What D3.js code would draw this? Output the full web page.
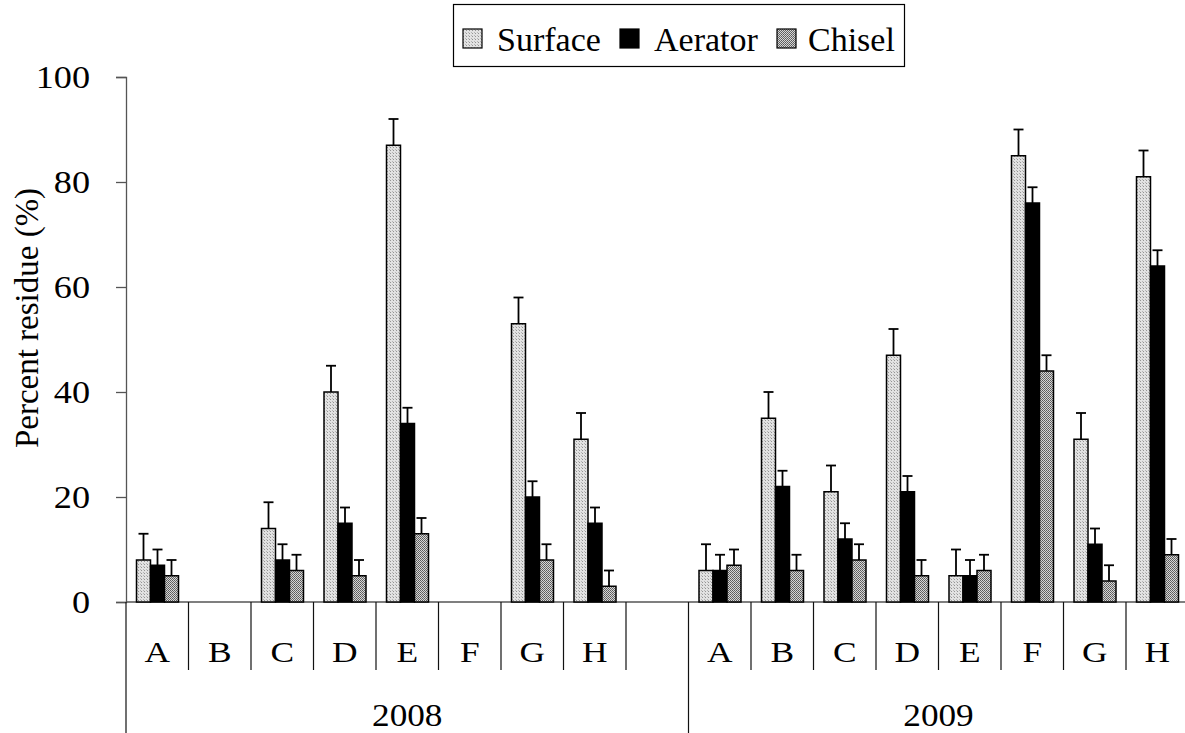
<!DOCTYPE html>
<html>
<head>
<meta charset="utf-8">
<script src="https://cdn.jsdelivr.net/npm/d3@7"></script>
<style>
  body { margin: 0; background: #fff; }
  text { font-family: "Liberation Serif", "Times New Roman", serif; fill: #000; }
</style>
</head>
<body>
<div id="chart"></div>
<script>
// Data
const years = ["2008", "2009"]
const sites = ["A", "B", "C", "D", "E", "F", "G", "H"]
const seriesNames = ["Surface", "Aerator", "Chisel"]

// null = no bar for that site
const surface2008 = [8, null, 14, 40, 87, null, 53, 31]
const aerator2008 = [7, null, 8, 15, 34, null, 20, 15]
const chisel2008  = [5, null, 6, 5, 13, null, 8, 3]
const surface2009 = [6, 35, 21, 47, 5, 85, 31, 81]
const aerator2009 = [6, 22, 12, 21, 5, 76, 11, 64]
const chisel2009  = [7, 6, 8, 5, 6, 44, 4, 9]

const surfaceErr = [5, null, 5, 5, 5, null, 5, 5, 5, 5, 5, 5, 5, 5, 5, 5]
const aeratorErr = [3, null, 3, 3, 3, null, 3, 3, 3, 3, 3, 3, 3, 3, 3, 3]
const chiselErr  = [3, null, 3, 3, 3, null, 3, 3, 3, 3, 3, 3, 3, 3, 3, 3]

const yTicks = [0, 20, 40, 60, 80, 100]

// Build slots: 2008 has an extra empty slot after H
const slots = []
sites.forEach(s => slots.push("2008-" + s))
slots.push("2008-gap")
sites.forEach(s => slots.push("2009-" + s))

const rows = []
const bySeries = {
  Surface: [surface2008, surface2009],
  Aerator: [aerator2008, aerator2009],
  Chisel: [chisel2008, chisel2009]
}
const errs = { Surface: surfaceErr, Aerator: aeratorErr, Chisel: chiselErr }
years.forEach((yr, yi) => {
  sites.forEach((s, si) => {
    seriesNames.forEach(name => {
      const v = bySeries[name][yi][si]
      if (v != null) rows.push({ slot: yr + "-" + s, series: name, value: v, err: errs[name][yi * 8 + si] })
    })
  })
})

// Size
const width = 1185, height = 733
const svg = d3.select("#chart").append("svg")
  .attr("width", width).attr("height", height)

// Patterns
const defs = svg.append("defs")
const pSurf = defs.append("pattern").attr("id", "pSurface")
  .attr("width", 3).attr("height", 3).attr("patternUnits", "userSpaceOnUse")
pSurf.append("rect").attr("width", 3).attr("height", 3).attr("fill", "#e2e2e2")
pSurf.append("rect").attr("width", 1).attr("height", 1).attr("fill", "#949494")
pSurf.append("rect").attr("x", 2).attr("y", 2).attr("width", 1).attr("height", 1).attr("fill", "#b5b5b5")

const pChis = defs.append("pattern").attr("id", "pChisel")
  .attr("width", 2).attr("height", 2).attr("patternUnits", "userSpaceOnUse")
pChis.append("rect").attr("width", 2).attr("height", 2).attr("fill", "#d6d6d6")
pChis.append("rect").attr("width", 1).attr("height", 1).attr("fill", "#5a5a5a")
pChis.append("rect").attr("x", 1).attr("y", 1).attr("width", 1).attr("height", 1).attr("fill", "#6a6a6a")

const fills = { Surface: "url(#pSurface)", Aerator: "#000", Chisel: "url(#pChisel)" }

// Scales
const x = d3.scaleBand().domain(slots).range([126, 126 + 17 * 62.5])
const xs = d3.scaleBand().domain(seriesNames).range([10.5, 52.5])
const y = d3.scaleLinear().domain([0, 100]).range([602, 77])

// Y axis
const yAxis = svg.append("g")
  .attr("transform", "translate(126,0)")
  .call(d3.axisLeft(y).tickValues(yTicks).tickSize(10))
yAxis.select(".domain").attr("stroke", "#555").attr("stroke-width", 1.3)
yAxis.selectAll(".tick line").attr("stroke", "#555").attr("stroke-width", 1.3)
yAxis.selectAll(".tick text")
  .attr("x", 0).attr("dy", "0.34em")
  .attr("transform", "translate(-36,0) scale(1.17,1)")
  .attr("font-size", 31)
  .style("font-family", "Liberation Serif").attr("fill", "#000")

// Baseline
svg.append("line")
  .attr("x1", 126).attr("x2", width).attr("y1", y(0)).attr("y2", y(0))
  .attr("stroke", "#555").attr("stroke-width", 1.3)

// Category dividers
const bounds = slots.map(s => x(s)).concat([x(slots[slots.length - 1]) + x.bandwidth()])
svg.selectAll(".divider")
  .data(bounds)
  .enter().append("line")
  .attr("x1", d => d).attr("x2", d => d)
  .attr("y1", y(0))
  .attr("y2", (d, i) => (i === 0 || i === 9) ? height : 670)
  .attr("stroke", "#111").attr("stroke-width", 1.2)

// Site labels
svg.selectAll(".site")
  .data(slots.filter(s => !s.endsWith("gap")))
  .enter().append("text")
  .attr("transform", d => `translate(${x(d) + x.bandwidth() / 2},662) scale(1.18,1)`)
  .attr("text-anchor", "middle")
  .attr("font-size", 30)
  .text(d => d.split("-")[1])

// Year labels
svg.selectAll(".year")
  .data(years)
  .enter().append("text")
  .attr("transform", (d, i) => {
    const cx = i === 0 ? (bounds[0] + bounds[9]) / 2 : (bounds[9] + bounds[17]) / 2
    return `translate(${cx},726) scale(1.1,1)`
  })
  .attr("text-anchor", "middle")
  .attr("font-size", 32)
  .text(d => d)

// Error bars (drawn first so bars sit on top)
const eb = svg.append("g")
eb.selectAll("line.v")
  .data(rows)
  .enter().append("line")
  .attr("x1", d => x(d.slot) + xs(d.series) + xs.bandwidth() / 2)
  .attr("x2", d => x(d.slot) + xs(d.series) + xs.bandwidth() / 2)
  .attr("y1", d => y(d.value)).attr("y2", d => y(d.value + d.err))
  .attr("stroke", "#000").attr("stroke-width", 1.8)
eb.selectAll("line.c")
  .data(rows)
  .enter().append("line")
  .attr("x1", d => x(d.slot) + xs(d.series) + xs.bandwidth() / 2 - 5)
  .attr("x2", d => x(d.slot) + xs(d.series) + xs.bandwidth() / 2 + 5)
  .attr("y1", d => y(d.value + d.err)).attr("y2", d => y(d.value + d.err))
  .attr("stroke", "#000").attr("stroke-width", 1.8)

// Bars
svg.append("g").selectAll("rect")
  .data(rows)
  .enter().append("rect")
  .attr("x", d => x(d.slot) + xs(d.series))
  .attr("y", d => y(d.value))
  .attr("width", xs.bandwidth())
  .attr("height", d => y(0) - y(d.value))
  .attr("fill", d => fills[d.series])
  .attr("stroke", "#000").attr("stroke-width", 1.5)

// Y axis title
svg.append("text")
  .attr("transform", "translate(38,318)rotate(-90)")
  .attr("text-anchor", "middle")
  .attr("font-size", 33)
  .text("Percent residue (%)")

// Legend
const legend = svg.append("g")
legend.append("rect")
  .attr("x", 453.5).attr("y", 4.5).attr("width", 451).attr("height", 62)
  .attr("fill", "#fff").attr("stroke", "#000").attr("stroke-width", 1.2)
const legX = [463, 620, 777]
const item = legend.selectAll(".item")
  .data(seriesNames)
  .enter().append("g")
  .attr("transform", (d, i) => `translate(${legX[i]},0)`)
item.append("rect")
  .attr("x", 0).attr("y", 29).attr("width", 19).attr("height", 19)
  .attr("fill", d => fills[d]).attr("stroke", "#000").attr("stroke-width", 1.2)
item.append("text")
  .attr("x", (d, i) => i === 2 ? 31 : 34).attr("y", 51)
  .attr("font-size", 34)
  .text(d => d)
</script>
</body>
</html>
